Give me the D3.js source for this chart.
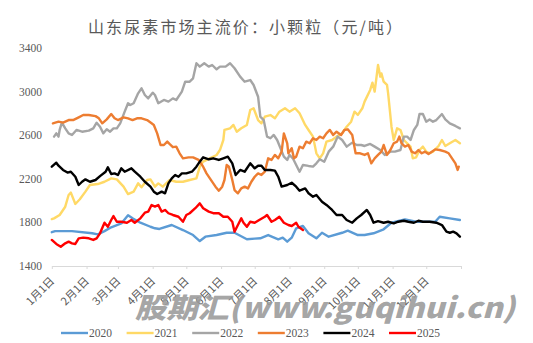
<!DOCTYPE html>
<html><head><meta charset="utf-8">
<script src="https://cdn.jsdelivr.net/npm/d3@7"></script>
<style>html,body{margin:0;padding:0;background:#fff;}svg{display:block;}</style>
</head><body>
<svg id="c" width="533" height="343"></svg>
<script>
const title = "山东尿素市场主流价：小颗粒（元/吨）";
const years = ["2020","2021","2022","2023","2024","2025"];
const colors = ["#5B9BD5","#FFD966","#A5A5A5","#ED7D31","#000000","#FF0000"];
const yTicks = [1400,1800,2200,2600,3000,3400];
const monthDays = [0,31,59,90,120,151,181,212,243,273,304,334,365];
const monthLabels = ["1月1日","2月1日","3月1日","4月1日","5月1日","6月1日","7月1日","8月1日","9月1日","10月1日","11月1日","12月1日",""];

// [day of year, price]
const s2020 = [[0,1710],[3,1720],[18,1720],[36,1700],[41,1690],[47,1720],[53,1755],[62,1790],[68,1865],[72,1837],[79,1797],[88,1760],[92,1746],[96,1740],[107,1776],[117,1730],[126,1684],[132,1629],[137,1669],[147,1684],[156,1705],[163,1705],[174,1645],[181,1651],[186,1654],[193,1684],[202,1645],[206,1660],[210,1623],[214,1660],[218,1746],[224,1767],[229,1700],[236,1654],[241,1705],[247,1669],[259,1705],[264,1724],[273,1684],[279,1684],[287,1700],[296,1737],[303,1797],[315,1828],[325,1806],[334,1806],[342,1806],[346,1852],[355,1837],[364,1822]];
const s2021 = [[0,1830],[2,1837],[7,1868],[12,1944],[15,2051],[17,2073],[21,1969],[25,2012],[30,2082],[34,2143],[41,2152],[47,2173],[53,2204],[58,2195],[64,2128],[68,2060],[73,2082],[77,2158],[80,2122],[85,2189],[88,2195],[92,2128],[95,2158],[99,2128],[105,2189],[111,2173],[117,2173],[123,2189],[129,2204],[132,2311],[135,2357],[141,2388],[147,2418],[150,2464],[153,2556],[154,2648],[159,2663],[162,2694],[165,2632],[169,2663],[174,2694],[177,2831],[180,2847],[184,2739],[187,2709],[190,2770],[195,2785],[199,2755],[203,2816],[208,2847],[212,2816],[217,2847],[221,2801],[226,2694],[229,2648],[233,2587],[236,2434],[239,2388],[242,2434],[245,2541],[250,2556],[254,2587],[259,2617],[263,2678],[267,2724],[270,2816],[273,2786],[277,2847],[279,2908],[284,3015],[286,3082],[288,3000],[291,3244],[293,3137],[294,3167],[296,3092],[299,3061],[300,2984],[303,2678],[305,2556],[308,2663],[311,2648],[314,2556],[317,2526],[320,2495],[322,2388],[325,2397],[328,2464],[331,2495],[334,2449],[337,2434],[340,2449],[345,2501],[348,2556],[351,2501],[355,2526],[360,2556],[364,2526]];
const s2022 = [[2,2587],[4,2617],[6,2587],[7,2648],[9,2715],[12,2663],[15,2617],[18,2602],[22,2648],[27,2632],[33,2642],[37,2663],[40,2715],[43,2678],[46,2617],[49,2654],[52,2632],[55,2663],[58,2663],[61,2709],[65,2816],[68,2893],[70,2877],[73,2893],[77,2984],[80,3030],[83,2969],[86,2938],[90,2990],[92,2969],[95,2893],[100,2923],[104,2908],[108,2938],[111,2923],[116,3000],[119,3091],[123,3091],[126,3122],[129,3260],[132,3229],[136,3260],[140,3229],[143,3244],[147,3205],[150,3229],[155,3229],[159,3260],[163,3214],[168,3137],[172,3091],[177,3106],[180,3061],[184,2953],[186,2770],[189,2739],[192,2587],[195,2572],[198,2602],[201,2556],[204,2480],[207,2403],[210,2373],[212,2419],[215,2388],[218,2327],[221,2265],[224,2327],[229,2318],[233,2312],[236,2342],[239,2379],[243,2357],[247,2449],[251,2495],[255,2587],[259,2556],[263,2495],[268,2532],[272,2510],[276,2510],[279,2501],[284,2520],[288,2495],[293,2464],[297,2419],[302,2449],[306,2449],[311,2464],[314,2587],[317,2587],[320,2556],[323,2648],[326,2694],[328,2794],[331,2794],[334,2724],[337,2745],[340,2724],[343,2739],[348,2794],[351,2745],[355,2709],[360,2685],[364,2663]];
const s2023 = [[1,2709],[6,2724],[10,2715],[15,2739],[19,2739],[24,2764],[28,2785],[33,2785],[39,2775],[42,2755],[45,2709],[49,2745],[53,2794],[56,2755],[59,2739],[64,2764],[68,2755],[72,2739],[76,2755],[80,2755],[85,2739],[89,2709],[91,2694],[94,2617],[97,2510],[100,2510],[103,2541],[105,2520],[108,2490],[111,2495],[114,2434],[117,2388],[122,2397],[126,2397],[131,2373],[135,2311],[138,2250],[141,2204],[146,2128],[149,2091],[152,2128],[154,2189],[156,2327],[158,2311],[161,2189],[163,2097],[166,2067],[169,2112],[172,2128],[175,2112],[178,2173],[181,2219],[184,2250],[187,2235],[190,2265],[193,2388],[196,2373],[199,2419],[202,2388],[205,2449],[207,2617],[210,2526],[211,2434],[214,2480],[216,2388],[218,2403],[221,2495],[224,2480],[227,2541],[230,2526],[233,2572],[236,2556],[239,2587],[242,2572],[245,2617],[248,2648],[251,2602],[254,2632],[258,2602],[261,2648],[264,2654],[268,2602],[271,2434],[275,2434],[279,2419],[282,2434],[285,2342],[288,2388],[291,2419],[294,2449],[296,2510],[299,2419],[302,2464],[305,2526],[308,2541],[310,2587],[312,2526],[315,2495],[318,2510],[321,2449],[324,2434],[327,2464],[330,2434],[333,2449],[336,2428],[339,2449],[342,2470],[346,2464],[351,2449],[354,2434],[357,2388],[360,2342],[362,2281],[363,2311]];
const s2024 = [[0,2311],[4,2348],[6,2320],[10,2281],[14,2257],[17,2265],[21,2219],[24,2143],[27,2173],[30,2195],[34,2173],[39,2189],[43,2225],[48,2265],[50,2305],[53,2244],[56,2250],[59,2235],[62,2296],[65,2265],[71,2296],[74,2265],[79,2219],[83,2173],[88,2128],[91,2082],[94,2060],[98,2082],[101,2067],[104,2158],[107,2204],[110,2235],[113,2219],[116,2250],[120,2250],[125,2265],[129,2311],[132,2357],[135,2397],[140,2379],[144,2388],[149,2373],[153,2388],[157,2403],[161,2342],[164,2235],[168,2281],[172,2265],[177,2342],[181,2296],[184,2320],[187,2320],[190,2281],[195,2281],[199,2275],[202,2219],[205,2128],[210,2143],[214,2164],[218,2128],[221,2091],[226,2112],[229,2067],[233,2036],[236,2051],[241,1990],[245,1960],[250,1914],[254,1868],[259,1868],[263,1822],[268,1797],[272,1837],[276,1868],[281,1914],[284,1868],[287,1797],[291,1812],[296,1797],[300,1806],[305,1791],[309,1806],[314,1815],[318,1806],[323,1797],[327,1815],[331,1806],[337,1806],[343,1797],[348,1776],[352,1715],[355,1705],[358,1715],[361,1700],[364,1669]];
const s2025 = [[0,1639],[4,1602],[8,1577],[12,1608],[15,1623],[18,1608],[21,1602],[24,1654],[28,1660],[33,1654],[37,1639],[40,1654],[43,1700],[47,1797],[50,1760],[53,1822],[55,1858],[58,1806],[62,1806],[67,1797],[71,1822],[74,1797],[79,1837],[83,1889],[86,1899],[89,1960],[92,1945],[95,1960],[98,1899],[101,1914],[104,1884],[108,1868],[113,1852],[117,1806],[120,1868],[123,1884],[128,1930],[132,1975],[135,1930],[140,1899],[144,1884],[149,1884],[153,1852],[157,1852],[161,1806],[163,1715],[166,1776],[169,1837],[171,1797],[174,1760],[177,1806],[181,1797],[185,1822],[190,1852],[192,1868],[196,1806],[199,1822],[203,1852],[207,1797],[211,1776],[214,1767],[218,1797],[220,1760],[224,1730]];
const series = [s2020,s2021,s2022,s2023,s2024,s2025];

const svg = d3.select("#c");
const x = d3.scaleLinear().domain([0,365]).range([51.8,461]);
const y = d3.scaleLinear().domain([1400,3400]).range([266,48]);
const grey = "#595959";

svg.append("text").attr("x",88).attr("y",33).attr("text-anchor","start")
  .attr("textLength",314).attr("lengthAdjust","spacing")
  .attr("font-family","'Noto Sans CJK SC'").attr("font-size",16)
  .attr("fill",grey).text(title);

// y labels
svg.append("g").selectAll("text").data(yTicks).join("text")
  .attr("x",42).attr("y",d=>y(d)).attr("dy","0.35em").attr("text-anchor","end")
  .attr("font-family","'Liberation Serif'").attr("font-size",11.5).attr("fill",grey).text(d=>d);

// x axis
const xa = svg.append("g").attr("transform","translate(0,266)")
  .call(d3.axisBottom(x).tickValues(monthDays).tickFormat("").tickSize(3).tickSizeOuter(0));
xa.select(".domain").attr("stroke","#d9d9d9");
xa.selectAll(".tick line").attr("stroke","#d9d9d9");
svg.append("g").selectAll("text").data(monthDays).join("text")
  .attr("transform",d=>`translate(${x(d)+0.5},279) rotate(-45)`)
  .attr("text-anchor","end").attr("dy","0.35em")
  .attr("font-family","'Noto Sans CJK SC'").attr("font-size",11).attr("fill",grey)
  .text((d,i)=>monthLabels[i]);

const line = d3.line().x(d=>x(d[0])).y(d=>y(d[1]));
svg.append("g").selectAll("path").data(series).join("path")
  .attr("d",line).attr("fill","none").attr("stroke",(d,i)=>colors[i])
  .attr("stroke-width",2.4).attr("stroke-linejoin","round").attr("stroke-linecap","round");

// watermark
svg.append("text").attr("x",135).attr("y",318).attr("textLength",380).attr("lengthAdjust","spacingAndGlyphs")
  .attr("font-family","'Noto Sans CJK SC'").attr("font-weight",900).attr("font-style","italic")
  .attr("font-size",28).attr("fill","#9a9a9a").attr("fill-opacity",0.9).text("股期汇(www.guqihui.cn)");

// legend
const lg = svg.append("g").selectAll("g").data(years).join("g")
  .attr("transform",(d,i)=>`translate(${61+i*65.6},333)`);
lg.append("line").attr("x1",0).attr("x2",27).attr("stroke",(d,i)=>colors[i]).attr("stroke-width",2.4);
lg.append("text").attr("x",28).attr("dy","0.35em").attr("font-family","'Liberation Serif'")
  .attr("font-size",11.5).attr("fill",grey).text(d=>d);
</script>
</body></html>
